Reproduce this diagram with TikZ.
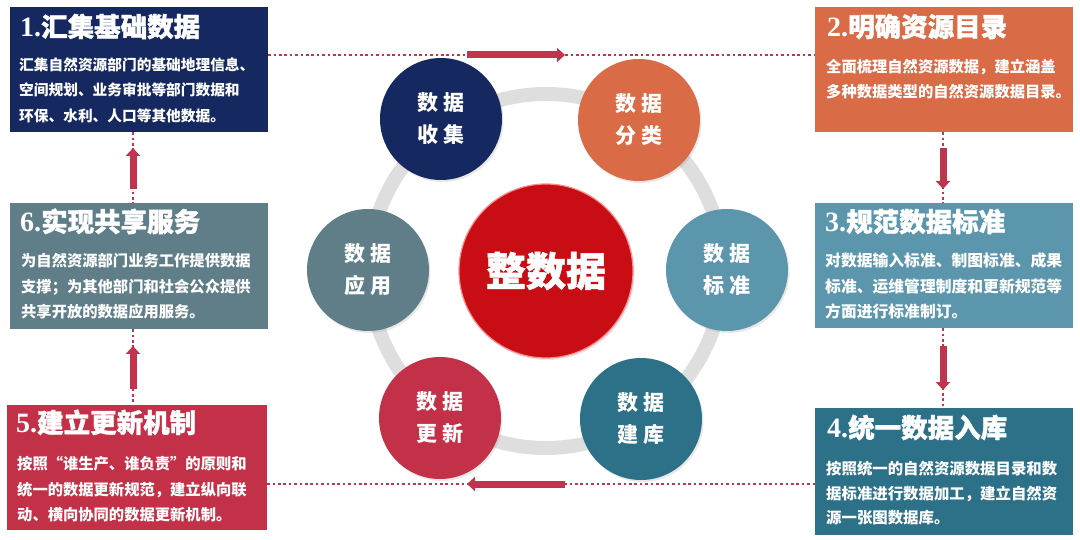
\documentclass[tikz,border=0pt]{standalone}
\usepackage{fontspec}
\setmainfont{Noto Sans CJK SC}
\newfontfamily\headfont{Noto Sans CJK SC}[BoldFeatures={FakeBold=1.2}]
\newfontfamily\numfont{Liberation Serif}
\usetikzlibrary{arrows.meta,shadows}

\definecolor{navy}{RGB}{21,41,96}
\definecolor{ochre}{RGB}{217,107,71}
\definecolor{slate}{RGB}{95,126,136}
\definecolor{sky}{RGB}{91,150,173}
\definecolor{rose}{RGB}{194,49,71}
\definecolor{teal}{RGB}{45,113,137}
\definecolor{core}{RGB}{200,14,20}
\definecolor{linkred}{RGB}{192,52,77}

\newcommand\steptitle[2]{{\fontsize{28}{30}\numfont\bfseries #1.}#2}

\tikzset{
  panel/.style={rectangle, inner sep=0pt, draw=none},
  title/.style={anchor=base west, inner sep=0pt, text=white, font=\fontsize{26.5}{30}\headfont\bfseries},
  body/.style={anchor=base west, inner sep=0pt, text=white, align=left, font=\fontsize{15.3}{25.5}\selectfont\bfseries},
  petal/.style={circle, inner sep=0pt, minimum size=122pt, text=white, align=center,
    font=\fontsize{21}{32}\selectfont\bfseries,
    drop shadow={opacity=0.18, shadow xshift=1.5pt, shadow yshift=-2pt}},
  dotline/.style={draw=linkred, line width=2.6pt, dash pattern=on 2.6pt off 2.8pt},
  bigarrow/.style={draw=linkred, line width=7pt, -{Triangle[length=8pt,width=14pt]}},
}

\begin{document}
\begin{tikzpicture}[x=1pt,y=-1pt]
\useasboundingbox (0,0) rectangle (1080,540);

% six panels
\node[panel, fill=navy, minimum width=258pt, minimum height=125pt] (b1) at (139,69.5) {};
\node[panel, fill=ochre, minimum width=258pt, minimum height=125pt] (b2) at (944,69.5) {};
\node[panel, fill=sky, minimum width=258pt, minimum height=125pt] (b3) at (944,265.5) {};
\node[panel, fill=teal, minimum width=258pt, minimum height=127pt] (b4) at (944,471.5) {};
\node[panel, fill=rose, minimum width=260pt, minimum height=125pt] (b5) at (137,467.5) {};
\node[panel, fill=slate, minimum width=258pt, minimum height=126pt] (b6) at (139,266) {};

\node[title] at (20,36.6) {\steptitle{1}{汇集基础数据}};
\node[body, font=\fontsize{14.7}{25.5}\selectfont\bfseries] at (19,121.5)
  {汇集自然资源部门的基础地理信息、\\空间规划、业务审批等部门数据和\\环保、水利、人口等其他数据。};

\node[title] at (827,36.6) {\steptitle{2}{明确资源目录}};
\node[body] at (826,97.7) {全面梳理自然资源数据，建立涵盖\\多种数据类型的自然资源数据目录。};

\node[title] at (825,231.6) {\steptitle{3}{规范数据标准}};
\node[body, font=\fontsize{15.8}{25.5}\selectfont\bfseries] at (825,317.8)
  {对数据输入标准、制图标准、成果\\标准、运维管理制度和更新规范等\\方面进行标准制订。};

\node[title] at (827,437.6) {\steptitle{4}{统一数据入库}};
\node[body, font=\fontsize{15.4}{24.5}\selectfont\bfseries] at (826,523.7)
  {按照统一的自然资源数据目录和数\\据标准进行数据加工，建立自然资\\源一张图数据库。};

\node[title] at (16,432.6) {\steptitle{5}{建立更新机制}};
\node[body] at (17,520.7) {按照“谁生产、谁负责”的原则和\\统一的数据更新规范，建立纵向联\\动、横向协同的数据更新机制。};

\node[title] at (20,231.6) {\steptitle{6}{实现共享服务}};
\node[body] at (21,317.7) {为自然资源部门业务工作提供数据\\支撑；为其他部门和社会公众提供\\共享开放的数据应用服务。};

% dotted links between panels
\coordinate (t1) at (b1.east |- 0,55);
\coordinate (t2) at (b2.west |- 0,55);
\coordinate (u1) at (b5.east |- 0,484);
\coordinate (u2) at (b4.west |- 0,484);
\coordinate (l1) at (b1.south -| 133,0);
\coordinate (l2) at (b6.north -| 133,0);
\coordinate (l3) at (b6.south -| 133,0);
\coordinate (l4) at (b5.north -| 133,0);
\coordinate (r1) at (b2.south -| 943,0);
\coordinate (r2) at (b3.north -| 943,0);
\coordinate (r3) at (b3.south -| 943,0);
\coordinate (r4) at (b4.north -| 943,0);
\draw[dotline] (t1) -- (t2);
\draw[dotline] (u1) -- (u2);
\draw[dotline] (l1) -- (l2);
\draw[dotline] (l3) -- (l4);
\draw[dotline] (r1) -- (r2);
\draw[dotline] (r3) -- (r4);

\coordinate (ta) at (467,55);
\coordinate (tb) at (565,55);
\coordinate (ua) at (565,484);
\coordinate (ub) at (467,484);
\coordinate (la) at (133,189);
\coordinate (lb) at (133,148);
\coordinate (lc) at (133,389);
\coordinate (ld) at (133,346);
\coordinate (ra) at (943,148);
\coordinate (rb) at (943,189);
\coordinate (rc) at (943,346);
\coordinate (rd) at (943,390);
\draw[bigarrow] (ta) -- (tb);
\draw[bigarrow] (ua) -- (ub);
\draw[bigarrow] (la) -- (lb);
\draw[bigarrow] (lc) -- (ld);
\draw[bigarrow] (ra) -- (rb);
\draw[bigarrow] (rc) -- (rd);

% ring and circles
\coordinate (hub) at (546,271);
\draw[line width=14pt, draw=black!13] (hub) circle (177pt);

\node[circle, inner sep=0pt, minimum size=174pt, fill=core, draw=red!45!white, line width=1.2pt,
  text=white, font=\fontsize{40}{44}\headfont\bfseries,
  drop shadow={opacity=0.2, shadow xshift=1.5pt, shadow yshift=-2pt}] (whole) at (hub) {整数据};

\node[petal, fill=navy] (collect) at (441,119) {数\hspace{5pt}据\\收\hspace{5pt}集};
\node[petal, fill=ochre] (classify) at (639,120) {数\hspace{5pt}据\\分\hspace{5pt}类};
\node[petal, fill=sky] (standard) at (727,270) {数\hspace{5pt}据\\标\hspace{5pt}准};
\node[petal, fill=teal] (build) at (641,419) {数\hspace{5pt}据\\建\hspace{5pt}库};
\node[petal, fill=rose] (update) at (440,418) {数\hspace{5pt}据\\更\hspace{5pt}新};
\node[petal, fill=slate] (apply) at (368,270) {数\hspace{5pt}据\\应\hspace{5pt}用};

\end{tikzpicture}
\end{document}
